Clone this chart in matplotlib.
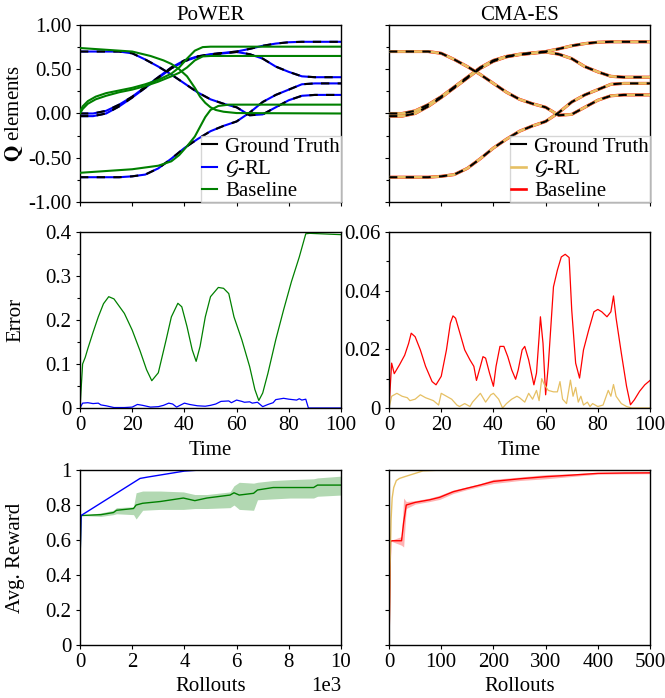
import matplotlib
matplotlib.use('Agg')
import matplotlib.pyplot as plt
from matplotlib.ticker import MultipleLocator, FormatStrFormatter, FuncFormatter
from matplotlib.lines import Line2D

plt.rcParams['font.family'] = 'serif'
plt.rcParams['font.serif'] = ['Liberation Serif', 'DejaVu Serif']
plt.rcParams['mathtext.fontset'] = 'stix'
plt.rcParams['axes.unicode_minus'] = False
plt.rcParams['font.size'] = 15

# ---- top row: Q elements over time (ground truth shared by both panels)
t_gt = [0, 5, 10, 15, 20, 25, 30, 35, 40, 45, 50, 55, 60, 65, 70, 75, 80, 85, 90, 95, 100]
q_a = [0.70, 0.70, 0.70, 0.70, 0.68, 0.61, 0.53, 0.44, 0.34, 0.24, 0.16, 0.11, 0.07, -0.02, -0.01, 0.07, 0.15, 0.20, 0.21, 0.21, 0.21]
q_b1 = [0.0, 0.0, 0.03, 0.10, 0.19, 0.30, 0.41, 0.52, 0.60, 0.645, 0.67, 0.685, 0.70, 0.73, 0.765, 0.79, 0.805, 0.81, 0.81, 0.81, 0.81]
q_b2 = [-0.03, -0.03, 0.0, 0.08, 0.18, 0.29, 0.40, 0.51, 0.59, 0.64, 0.665, 0.68, 0.695, 0.67, 0.62, 0.53, 0.47, 0.42, 0.41, 0.41, 0.41]
q_d = [-0.72, -0.72, -0.72, -0.72, -0.71, -0.69, -0.62, -0.51, -0.39, -0.29, -0.20, -0.14, -0.09, 0.01, 0.13, 0.21, 0.27, 0.33, 0.34, 0.34, 0.34]

# PoWER baseline (green)
t_g1 = [0, 10, 20, 27, 32, 35, 38, 41, 44, 46, 48, 50, 52, 55, 60, 100]
q_g1 = [0.74, 0.72, 0.70, 0.65, 0.60, 0.56, 0.50, 0.42, 0.29, 0.19, 0.12, 0.07, 0.04, 0.02, 0.005, 0.0]
t_g2 = [0, 1, 3, 6, 10, 15, 20, 25, 30, 35, 38, 41, 44, 47, 50, 100]
q_g2 = [0.02, 0.08, 0.14, 0.19, 0.23, 0.26, 0.29, 0.33, 0.38, 0.45, 0.52, 0.62, 0.71, 0.75, 0.755, 0.755]
q_g3 = [0.0, 0.05, 0.11, 0.16, 0.20, 0.24, 0.27, 0.31, 0.36, 0.42, 0.46, 0.52, 0.60, 0.645, 0.65, 0.65]
t_g4 = [0, 10, 20, 30, 35, 38, 41, 44, 46, 48, 50, 53, 57, 100]
q_g4 = [-0.67, -0.65, -0.63, -0.59, -0.54, -0.47, -0.37, -0.26, -0.15, -0.04, 0.04, 0.085, 0.10, 0.10]

# ---- middle row: error
t_err_g = [0, 1, 2, 3, 5, 7, 9, 11, 13, 17, 20, 23, 25.5, 27.5, 30, 33, 35, 37.5, 39, 41, 43, 44.5, 46, 48, 50,
           53, 55, 57, 59, 62, 65, 67, 68.5, 70, 72, 75, 78, 81, 84, 86.5, 88, 100]
err_g = [0, 0.10, 0.115, 0.135, 0.172, 0.207, 0.237, 0.253, 0.248, 0.215, 0.177, 0.13, 0.087, 0.062, 0.08, 0.155,
         0.207, 0.238, 0.23, 0.185, 0.132, 0.106, 0.14, 0.207, 0.253, 0.274, 0.272, 0.26, 0.207, 0.155, 0.094,
         0.042, 0.017, 0.034, 0.079, 0.155, 0.223, 0.287, 0.343, 0.396, 0.397, 0.394]
t_err_b = [0, 1, 3, 5, 7, 8, 10, 13, 17, 20, 22, 24, 27, 30, 32, 34, 35.5, 37, 40, 42, 45, 48, 50, 52, 54, 57,
           58, 60, 62, 63, 65, 66, 68, 69, 70, 72, 74, 75, 78, 80, 83, 84, 85, 86.5, 87.5, 100]
err_b = [0, 0.011, 0.012, 0.010, 0.011, 0.007, 0.005, 0.001, 0.001, 0.002, 0.008, 0.006, 0.002, 0.003, 0.006,
         0.011, 0.009, 0.002, 0.011, 0.008, 0.005, 0.004, 0.006, 0.009, 0.015, 0.016, 0.012, 0.018, 0.015, 0.013,
         0.014, 0.011, 0.013, 0.008, 0.003, 0.008, 0.012, 0.019, 0.022, 0.020, 0.018, 0.021, 0.018, 0.020, 0.0, 0.0]

t_err_r = [0, 1, 2, 4, 6, 7.5, 8.5, 10, 12, 14, 16.5, 18, 20, 22, 23.5, 24.5, 25.5, 27, 29, 31, 32.5, 33.5, 35,
           36, 37, 38.5, 40, 41, 42.5, 44, 45.5, 47, 48.5, 49.5, 51, 52, 53.5, 55.5, 56.5, 57.5, 58, 59, 60, 61,
           63, 64.5, 66, 67.5, 69, 70, 71.5, 73, 74.5, 76.5, 78.5, 80, 81.5, 83.5, 85, 86, 87, 89, 91, 92.5, 94,
           96, 98, 100]
err_r = [0, 0.0153, 0.0117, 0.0147, 0.018, 0.022, 0.0255, 0.0243, 0.0198, 0.0142, 0.009, 0.0079, 0.0108,
         0.0198, 0.0289, 0.0314, 0.0306, 0.026, 0.0198, 0.0164, 0.0142, 0.0094, 0.0142, 0.0175, 0.017, 0.0119,
         0.0074, 0.0142, 0.021, 0.021, 0.0175, 0.013, 0.0098, 0.013, 0.0198, 0.021, 0.0164, 0.0079, 0.0119,
         0.0243, 0.0311, 0.022, 0.0045, 0.0142, 0.0413, 0.047, 0.0515, 0.0524, 0.0513, 0.0334, 0.0153, 0.0102,
         0.0198, 0.0266, 0.0328, 0.0336, 0.0328, 0.0311, 0.0328, 0.0382, 0.0306, 0.0187, 0.0074, 0.0011, 0.0028,
         0.0057, 0.0079, 0.0094]
t_err_y = [0, 1, 3, 5, 7, 8, 10, 12, 14, 17, 19, 20, 22, 24, 26, 27, 29, 31, 32, 34, 35, 37, 39, 40, 42, 43.5,
           45, 47, 49, 50, 52, 53.5, 55, 56.5, 57.5, 58.5, 59.5, 61, 63, 64.5, 65.5, 66.5, 68, 69.5, 70.5, 71.5,
           72.5, 73.5, 74.5, 76, 77, 78, 80, 82, 84, 85, 86, 87, 89, 91, 93, 100]
err_y = [0, 0.004, 0.005, 0.004, 0.0035, 0.0025, 0.003, 0.0045, 0.0035, 0.0025, 0.001, 0.005, 0.004, 0.003,
         0.001, 0.0005, 0.0015, 0.0005, 0.002, 0.004, 0.005, 0.002, 0.0045, 0.005, 0.003, 0.0, 0.0015, 0.003,
         0.004, 0.0035, 0.002, 0.005, 0.003, 0.006, 0.0025, 0.010, 0.008, 0.006, 0.0055, 0.0055, 0.009, 0.003,
         0.0015, 0.0095, 0.004, 0.007, 0.002, 0.004, 0.001, 0.002, 0.0005, 0.0015, 0.0005, 0.001, 0.006, 0.004,
         0.008, 0.004, 0.0015, 0.0005, 0.0, 0.0]

# ---- bottom row: average reward
roll_b = [0, 40, 2300, 2600, 4000, 4600, 10000]
rew_b = [0.47, 0.74, 0.952, 0.96, 0.994, 1.0, 1.0]
roll_g = [0, 40, 800, 1280, 1400, 2050, 2150, 2400, 3070, 3960, 4400, 4860, 5750, 5900, 6100, 6650, 6800,
          7400, 8050, 8950, 9100, 10000]
rew_g = [0.47, 0.74, 0.745, 0.757, 0.77, 0.78, 0.80, 0.81, 0.82, 0.84, 0.825, 0.84, 0.857, 0.87, 0.857,
         0.867, 0.886, 0.90, 0.90, 0.90, 0.914, 0.914]
rew_g_hi = [0.47, 0.74, 0.755, 0.77, 0.785, 0.79, 0.87, 0.88, 0.88, 0.875, 0.86, 0.86, 0.875, 0.91, 0.93,
            0.925, 0.93, 0.94, 0.945, 0.95, 0.955, 0.965]
rew_g_lo = [0.47, 0.74, 0.735, 0.745, 0.75, 0.745, 0.72, 0.77, 0.775, 0.775, 0.78, 0.78, 0.785, 0.80, 0.775,
            0.77, 0.83, 0.835, 0.84, 0.84, 0.85, 0.857]

roll_y = [0, 2, 4, 6, 9, 14, 20, 30, 46, 65, 90, 500]
rew_y = [0, 0.45, 0.72, 0.84, 0.90, 0.94, 0.952, 0.962, 0.977, 0.995, 0.998, 0.998]
roll_r = [0, 3, 5, 24, 28, 33, 50, 78, 97, 123, 148, 174, 200, 250, 300, 350, 400, 450, 500]
rew_r = [0.0, 0.59, 0.596, 0.596, 0.70, 0.80, 0.815, 0.83, 0.844, 0.876, 0.895, 0.914, 0.935, 0.95, 0.962,
         0.971, 0.981, 0.983, 0.984]
rew_r_hi = [0.0, 0.59, 0.60, 0.62, 0.84, 0.82, 0.825, 0.84, 0.856, 0.886, 0.903, 0.922, 0.947, 0.96, 0.974,
            0.979, 0.986, 0.988, 0.989]
rew_r_lo = [0.0, 0.59, 0.592, 0.57, 0.56, 0.78, 0.805, 0.82, 0.832, 0.866, 0.887, 0.906, 0.923, 0.94, 0.95,
            0.963, 0.976, 0.978, 0.979]

yellow = '#e6c064'
gts = [q_a, q_b1, q_b2, q_d]

fig = plt.figure(figsize=(6.65, 6.98), dpi=100)
xl, xr, w = 0.1203, 0.585, 0.3925
rows = [(0.7106, 0.2536), (0.4155, 0.2521), (0.0759, 0.2507)]
axs = [[fig.add_axes([x, b, w, h]) for x in (xl, xr)] for b, h in rows]

for row in axs:
    for ax in row:
        ax.tick_params(which='both', direction='out', width=0.8, labelsize=15, pad=3)
        ax.tick_params(which='major', length=3)
        ax.tick_params(which='minor', length=2)
        for s in ax.spines.values():
            s.set_linewidth(1.0)

gfmt = FuncFormatter(lambda v, p: '%g' % round(v, 6))
leg_kw = dict(loc='lower right', borderaxespad=0, handlelength=0.7, handletextpad=0.4, borderpad=0.05,
              labelspacing=0.1, fancybox=False, edgecolor='0.8', fontsize=15)

# top-left: PoWER
ax = axs[0][0]
for q in gts:
    ax.plot(t_gt, q, color='blue', lw=1.5, zorder=2)
    ax.plot(t_gt, q, color='black', lw=1.5, ls=(0, (4, 4)), zorder=3)
ax.plot(t_g1, q_g1, color='green', lw=1.5, zorder=4)
ax.plot(t_g2, q_g2, color='green', lw=1.5, zorder=4)
ax.plot(t_g2, q_g3, color='green', lw=1.5, zorder=4)
ax.plot(t_g4, q_g4, color='green', lw=1.5, zorder=4)
ax.set_title('PoWER', fontsize=15, pad=3)
ax.set_ylabel(r'$\mathbf{Q}$ elements')
handles = [Line2D([], [], color='black', lw=1.5), Line2D([], [], color='blue', lw=1.5),
           Line2D([], [], color='green', lw=1.5)]
ax.legend(handles, ['Ground Truth', r'$\mathcal{G}$-RL', 'Baseline'], **leg_kw)

# top-right: CMA-ES
ax = axs[0][1]
for q in gts:
    ax.plot(t_gt, q, color='red', lw=2.2, zorder=2)
    ax.plot(t_gt, q, color=yellow, lw=1.9, zorder=3)
    ax.plot(t_gt, q, color='black', lw=1.5, ls=(0, (4, 4)), zorder=4)
ax.set_title('CMA-ES', fontsize=15, pad=3)
handles = [Line2D([], [], color='black', lw=1.5), Line2D([], [], color=yellow, lw=1.9),
           Line2D([], [], color='red', lw=1.9)]
ax.legend(handles, ['Ground Truth', r'$\mathcal{G}$-RL', 'Baseline'], **leg_kw)

for ax in axs[0]:
    ax.set_xlim(0, 100)
    ax.set_ylim(-1, 1)
    ax.xaxis.set_major_locator(MultipleLocator(20))
    ax.yaxis.set_major_locator(MultipleLocator(0.5))
    ax.yaxis.set_minor_locator(MultipleLocator(0.25))
    ax.yaxis.set_major_formatter(FormatStrFormatter('%.2f'))
    ax.tick_params(labelbottom=False)
axs[0][1].tick_params(labelleft=False)

# middle row: error
ax = axs[1][0]
ax.plot(t_err_g, err_g, color='green', lw=0.9)
ax.plot(t_err_b, err_b, color='blue', lw=0.9)
ax.set_ylim(0, 0.4)
ax.yaxis.set_major_locator(MultipleLocator(0.1))
ax.yaxis.set_minor_locator(MultipleLocator(0.05))
ax.set_ylabel('Error')

ax = axs[1][1]
ax.plot(t_err_r, err_r, color='red', lw=0.9)
ax.plot(t_err_y, err_y, color=yellow, lw=0.9)
ax.set_ylim(0, 0.06)
ax.yaxis.set_major_locator(MultipleLocator(0.02))
ax.yaxis.set_minor_locator(MultipleLocator(0.01))

for ax in axs[1]:
    ax.set_xlim(0, 100)
    ax.xaxis.set_major_locator(MultipleLocator(20))
    ax.yaxis.set_major_formatter(gfmt)
    ax.set_xlabel('Time')
    ax.xaxis.set_label_coords(0.5, -0.185)

# bottom row: reward
ax = axs[2][0]
ax.fill_between(roll_g, rew_g_lo, rew_g_hi, color='green', alpha=0.3, lw=0)
ax.plot(roll_g, rew_g, color='green', lw=1.0)
ax.plot(roll_b, rew_b, color='blue', lw=1.0)
ax.set_xlim(0, 10000)
ax.xaxis.set_major_locator(MultipleLocator(2000))
ax.ticklabel_format(style='sci', axis='x', scilimits=(3, 3))
ax.xaxis.get_offset_text().set_fontsize(15)
ax.set_ylabel('Avg. Reward')

ax = axs[2][1]
ax.fill_between(roll_r, rew_r_lo, rew_r_hi, color='red', alpha=0.3, lw=0)
ax.plot(roll_r, rew_r, color='red', lw=1.0)
ax.plot(roll_y, rew_y, color=yellow, lw=1.0)
ax.set_xlim(0, 500)
ax.xaxis.set_major_locator(MultipleLocator(100))
ax.tick_params(labelleft=False)

for ax in axs[2]:
    ax.set_ylim(0, 1)
    ax.yaxis.set_major_locator(MultipleLocator(0.2))
    ax.yaxis.set_major_formatter(gfmt)
    ax.set_xlabel('Rollouts')
    ax.xaxis.set_label_coords(0.5, -0.185)

for row in axs:
    row[0].yaxis.set_label_coords(-0.21, 0.5)

plt.savefig('out.png', dpi=100)
